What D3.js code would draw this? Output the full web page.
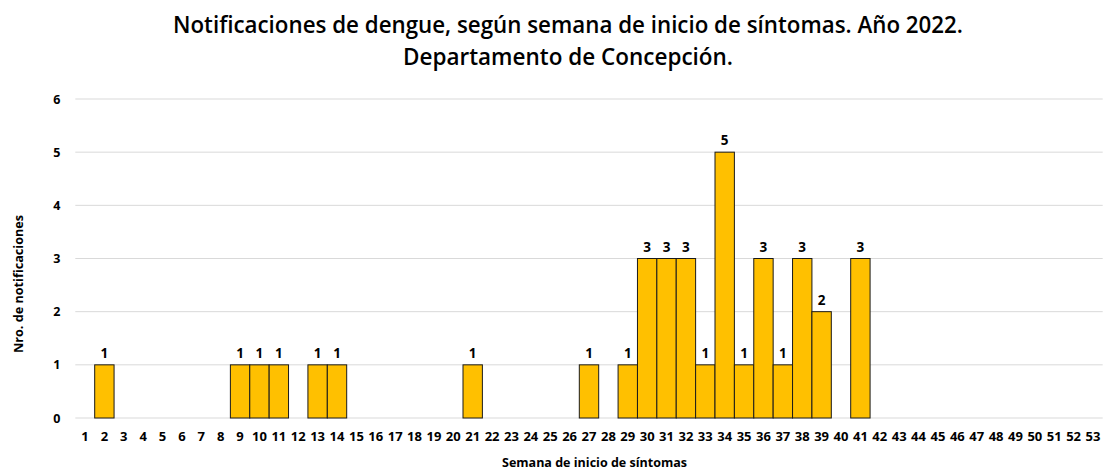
<!DOCTYPE html>
<html><head><meta charset="utf-8">
<script src="https://cdn.jsdelivr.net/npm/d3@7"></script>
<style>body{margin:0;background:#fff}svg{display:block}text{font-family:"Open Sans","Noto Sans",sans-serif}</style>
</head><body>
<svg id="c" width="1104" height="472"></svg>
<script>
const weeks = d3.range(1, 54).map(String);
const weeksWithCases = [2, 9, 10, 11, 13, 14, 21, 27, 29, 30, 31, 32, 33, 34, 35, 36, 37, 38, 39, 41];
const cases = [1, 1, 1, 1, 1, 1, 1, 1, 1, 3, 3, 3, 1, 5, 1, 3, 1, 3, 2, 3];
const yTicks = [0, 1, 2, 3, 4, 5, 6];
const titleLines = ["Notificaciones de dengue, según semana de inicio de síntomas. Año 2022.", "Departamento de Concepción."];
const xTitle = "Semana de inicio de síntomas";
const yTitle = "Nro. de notificaciones";

const data = weeks.map(w => {
  const i = weeksWithCases.indexOf(+w);
  return {week: w, value: i >= 0 ? cases[i] : 0};
});

const svg = d3.select("#c");
const m = {left: 75.3, right: 1104 - 1102.7, top: 99, bottom: 472 - 418};
const x = d3.scaleBand().domain(weeks).range([m.left, 1104 - m.right]).paddingInner(0).paddingOuter(0);
const y = d3.scaleLinear().domain([0, 6]).range([418, 99]);

svg.append("g").selectAll("line").data(yTicks).join("line")
  .attr("x1", m.left).attr("x2", 1104 - m.right)
  .attr("y1", d => y(d)).attr("y2", d => y(d))
  .attr("stroke", "#d9d9d9").attr("stroke-width", 1);

const yAxis = svg.append("g").attr("transform", `translate(${m.left},0)`)
  .call(d3.axisLeft(y).tickValues(yTicks).tickSize(0).tickPadding(15).tickFormat(d3.format("d")));
yAxis.select(".domain").remove();
yAxis.selectAll("text").attr("font-size", 12.5).attr("font-weight", 700).attr("fill", "#000")
  .attr("font-family", "'Open Sans',sans-serif");

const xAxis = svg.append("g").attr("transform", `translate(0,${y(0)})`)
  .call(d3.axisBottom(x).tickSize(0).tickPadding(14));
xAxis.select(".domain").remove();
xAxis.selectAll("text").attr("font-size", 13).attr("font-weight", 700).attr("fill", "#000")
  .attr("font-family", "'Open Sans',sans-serif");

svg.append("g").selectAll("rect").data(data.filter(d => d.value > 0)).join("rect")
  .attr("x", d => x(d.week)).attr("width", x.bandwidth())
  .attr("y", d => y(d.value)).attr("height", d => y(0) - y(d.value))
  .attr("fill", "#FFC000").attr("stroke", "#1a1a1a").attr("stroke-width", 1);

svg.append("g").selectAll("text").data(data.filter(d => d.value > 0)).join("text")
  .attr("x", d => x(d.week) + x.bandwidth() / 2).attr("y", d => y(d.value) - 7)
  .attr("text-anchor", "middle").attr("font-size", 13.5).attr("font-weight", 700)
  .text(d => d.value);

const titleWidths = [790, 330];
svg.append("g").selectAll("text").data(titleLines).join("text")
  .attr("x", 568).attr("y", (d, i) => 33 + i * 31.5)
  .attr("text-anchor", "middle").attr("font-size", 22.5).attr("font-weight", 600)
  .attr("textLength", (d, i) => titleWidths[i]).attr("lengthAdjust", "spacingAndGlyphs")
  .text(d => d);

svg.append("text").attr("x", 594.5).attr("y", 467).attr("text-anchor", "middle")
  .attr("font-size", 13).attr("font-weight", 700)
  .attr("textLength", 185).attr("lengthAdjust", "spacingAndGlyphs").text(xTitle);
svg.append("text").attr("transform", "translate(23,284) rotate(-90)").attr("text-anchor", "middle")
  .attr("font-size", 13).attr("font-weight", 700)
  .attr("textLength", 138).attr("lengthAdjust", "spacingAndGlyphs").text(yTitle);
</script>
</body></html>
